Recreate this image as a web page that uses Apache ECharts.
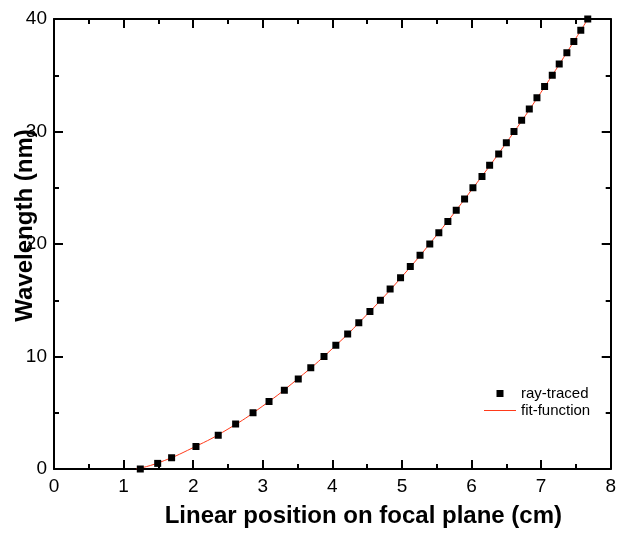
<!DOCTYPE html>
<html>
<head>
<meta charset="utf-8">
<script src="https://cdn.jsdelivr.net/npm/echarts@6/dist/echarts.min.js"></script>
<style>
html,body{margin:0;padding:0;background:#fff;}
#chart{width:619px;height:540px;}
</style>
</head>
<body>
<div id="chart"></div>
<script>
// ray-traced points: linear position (cm) and wavelength (nm)
var rayX = [1.24, 1.49, 1.69, 2.04, 2.36, 2.61, 2.86, 3.09, 3.31, 3.51, 3.69, 3.88, 4.05, 4.22, 4.38, 4.54, 4.69, 4.83, 4.98,
            5.12, 5.26, 5.40, 5.53, 5.66, 5.78, 5.90, 6.02, 6.15, 6.26, 6.39, 6.50, 6.61, 6.72, 6.83, 6.94, 7.05, 7.16, 7.26, 7.37, 7.47, 7.57, 7.67];
var rayY = [0, 0.5, 1, 2, 3, 4, 5, 6, 7, 8, 9, 10, 11, 12, 13, 14, 15, 16, 17,
            18, 19, 20, 21, 22, 23, 24, 25, 26, 27, 28, 29, 30, 31, 32, 33, 34, 35, 36, 37, 38, 39, 40];
// fit-function curve
var fitX = [1.18, 1.5, 2.0, 2.5, 3.0, 3.5, 4.0, 4.5, 5.0, 5.5, 6.0, 6.5, 7.0, 7.5, 7.75];
var fitY = [0, 0.55, 1.9, 3.55, 5.6, 8.0, 10.7, 13.75, 17.1, 20.8, 24.8, 29.0, 33.5, 38.3, 40.8];
var xTicks = ['0','1','2','3','4','5','6','7','8'];
var yTicks = ['0','10','20','30','40'];

var rayData = rayX.map(function(v,i){return [v, rayY[i]];});
var fitData = fitX.map(function(v,i){return [v, fitY[i]];});

var chart = echarts.init(document.getElementById('chart'));
var axisLine = {show:true, onZero:false, lineStyle:{color:'#000', width:2}};
var tickStyle = {show:true, inside:true, length:9, lineStyle:{color:'#000', width:2}};
var minorStyle = {show:true, splitNumber:2, length:5, lineStyle:{color:'#000', width:2}};
var fontFam = 'Liberation Sans, Arial, sans-serif';
chart.setOption({
  animation:false,
  backgroundColor:'#fff',
  grid:{left:54, right:7, top:19, bottom:71, containLabel:false},
  xAxis:[{
    type:'value', min:0, max:8, interval:1, position:'bottom',
    axisLine:axisLine, axisTick:tickStyle, minorTick:minorStyle,
    splitLine:{show:false},
    axisLabel:{color:'#000', fontSize:19, fontFamily:fontFam, margin:8,
      formatter:function(v){return xTicks[Math.round(v)];}},
    name:'Linear position on focal plane (cm)', nameLocation:'middle', nameGap:35,
    nameMoveOverlap:false,
    nameTextStyle:{color:'#000', fontSize:24, fontWeight:'bold', fontFamily:fontFam, padding:[0,0,0,62]}
  },{
    type:'value', min:0, max:8, interval:1, position:'top',
    axisLine:axisLine, axisTick:tickStyle, minorTick:minorStyle,
    splitLine:{show:false}, axisLabel:{show:false}
  }],
  yAxis:[{
    type:'value', min:0, max:40, interval:10, position:'left',
    axisLine:axisLine, axisTick:tickStyle, minorTick:minorStyle,
    splitLine:{show:false},
    axisLabel:{color:'#000', fontSize:19, fontFamily:fontFam, margin:7,
      formatter:function(v){return yTicks[Math.round(v/10)];}},
    name:'Wavelength (nm)', nameLocation:'middle', nameGap:17,
    nameMoveOverlap:false,
    nameTextStyle:{color:'#000', fontSize:24, fontWeight:'bold', fontFamily:fontFam, padding:[0,0,0,37]}
  },{
    type:'value', min:0, max:40, interval:10, position:'right',
    axisLine:axisLine, axisTick:tickStyle, minorTick:minorStyle,
    splitLine:{show:false}, axisLabel:{show:false}
  }],
  legend:{
    orient:'vertical', left:484, top:386, padding:0, itemGap:2, itemWidth:32, itemHeight:7,
    symbolKeepAspect:true,
    textStyle:{color:'#000', fontSize:15, fontFamily:fontFam},
    data:[
      {name:'ray-traced', icon:'path://M0,0L10,0L10,10L0,10Z'},
      {name:'fit-function', icon:'path://M0,0L32,0L32,1L0,1Z'}
    ]
  },
  series:[{
    name:'fit-function', type:'line', data:fitData, smooth:true, showSymbol:false, symbol:'none',
    lineStyle:{color:'#ff3a1a', width:1}, itemStyle:{color:'#ff3a1a'}, clip:true, z:2
  },{
    name:'ray-traced', type:'scatter', data:rayData, symbol:'rect', symbolSize:7,
    itemStyle:{color:'#000', opacity:1}, z:3
  }]
});
</script>
</body>
</html>
